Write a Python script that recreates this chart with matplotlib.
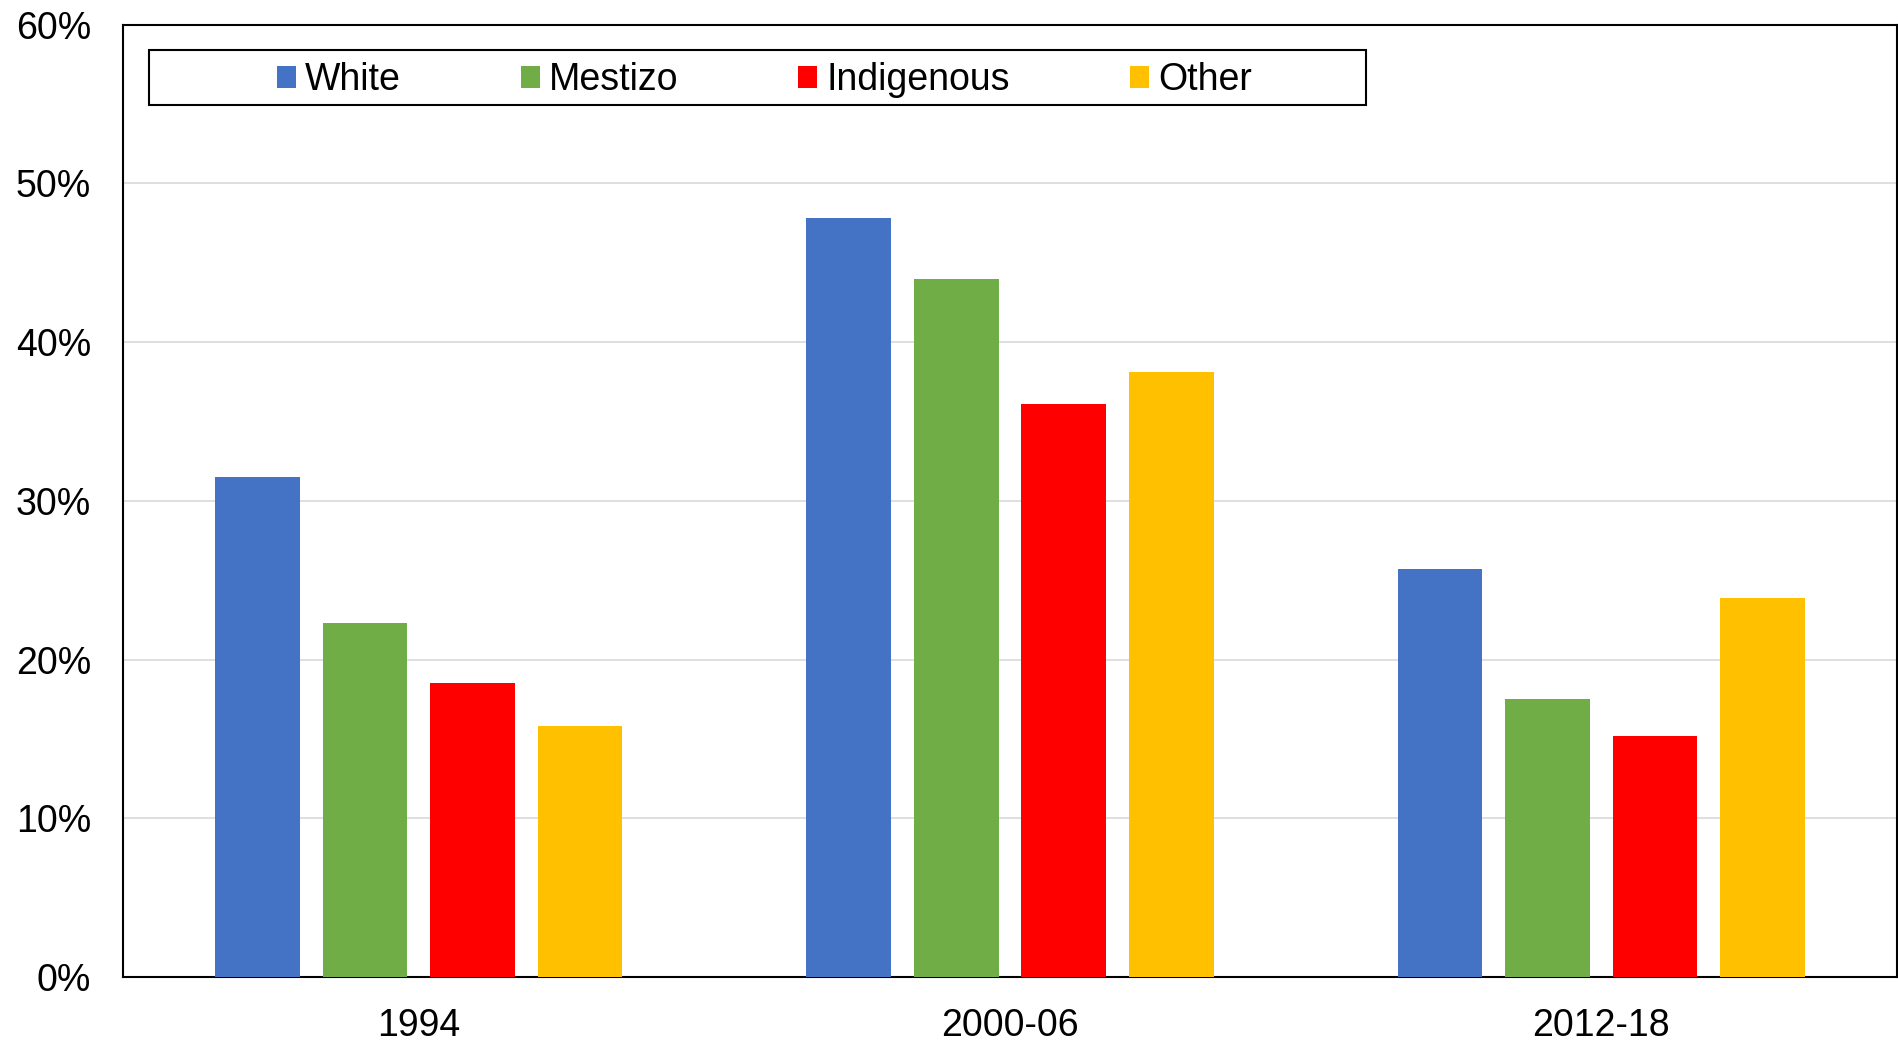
#barras agrupadas por periodo y grupo etnico

import numpy as np
import matplotlib.pyplot as plt
from matplotlib.patches import Rectangle
from matplotlib.ticker import FuncFormatter

plt.rcParams['font.family'] = ['Liberation Sans', 'DejaVu Sans']

periodos = ['1994', '2000-06', '2012-18']
grupos = ['White', 'Mestizo', 'Indigenous', 'Other']
white = [31.5, 47.8, 25.7]
mestizo = [22.3, 44.0, 17.5]
indigenous = [18.5, 36.1, 15.2]
other = [15.8, 38.1, 23.9]
colores = ['#4472C4', '#70AD47', '#FF0000', '#FFC000']

series = [white, mestizo, indigenous, other]
x = np.arange(len(periodos))
ancho = 0.1434
paso = 0.1818

fig = plt.figure(figsize=(18.99, 10.41), dpi=100)
ax = fig.add_axes([0.0648, 0.0615, 0.99895 - 0.0648, 0.9763 - 0.0615])

for i, (vals, c) in enumerate(zip(series, colores)):
    ax.bar(x + (i - 1.5) * paso, vals, width=ancho, color=c, label=grupos[i], zorder=3)

ax.set_xlim(-0.5, 2.5)
ax.set_ylim(0, 60)
ax.set_yticks(np.arange(0, 61, 10))
ax.yaxis.set_major_formatter(FuncFormatter(lambda v, p: '%d%%' % v))
ax.set_xticks(x)
ax.set_xticklabels(periodos)
ax.tick_params(axis='both', length=0, labelsize=27)
ax.tick_params(axis='y', pad=23)
ax.tick_params(axis='x', pad=22)
ax.grid(axis='y', color='#D9D9D9', linewidth=1.2, zorder=0)
for s in ax.spines.values():
    s.set_linewidth(1.5)
    s.set_color('black')

# marco de la leyenda
ax.add_patch(Rectangle((0.0147, 0.9152), 0.7007 - 0.0147, 0.9729 - 0.9152,
                       transform=ax.transAxes, facecolor='white', edgecolor='black',
                       linewidth=1.5, zorder=4))
ax.legend(loc='center', bbox_to_anchor=(0.3615, 0.9415), ncol=4, frameon=False,
          fontsize=27, handlelength=0.5, handleheight=0.5, handletextpad=0.25,
          columnspacing=3.2, borderpad=0)

fig.savefig('out.png', dpi=100)
